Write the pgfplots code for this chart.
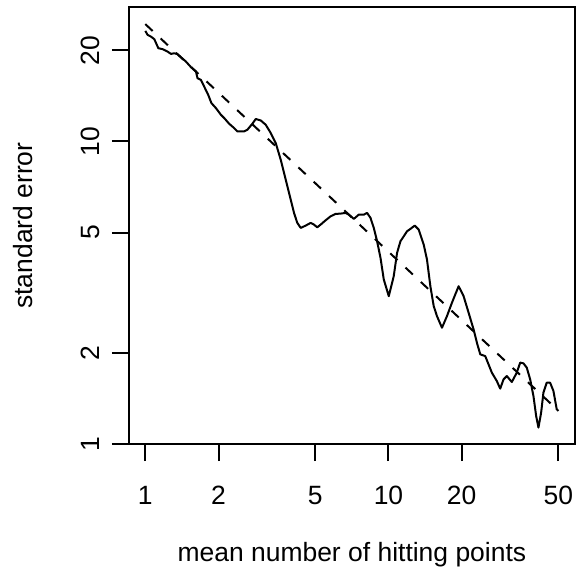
\documentclass[border=0pt]{standalone}
\usepackage{fontspec}
\setmainfont{Liberation Sans}
\usepackage{pgfplots}
\pgfplotsset{compat=1.18}

% standard error vs mean number of hitting points (log-log)
\pgfplotstableread{
x y
1.000 23.17
1.022 22.48
1.055 22.19
1.089 21.76
1.131 20.32
1.178 20.17
1.234 19.81
1.275 19.46
1.315 19.56
1.357 19.42
1.401 18.98
1.469 18.36
1.540 17.60
1.615 17.02
1.639 16.18
1.692 15.97
1.746 15.18
1.813 14.26
1.871 13.38
1.951 12.89
2.045 12.25
2.110 11.95
2.212 11.44
2.319 11.07
2.392 10.79
2.548 10.79
2.629 10.93
2.756 11.44
2.846 11.86
2.984 11.73
3.128 11.35
3.280 10.66
3.439 9.879
3.605 8.701
3.780 7.476
3.963 6.424
4.088 5.807
4.218 5.383
4.356 5.182
4.566 5.273
4.786 5.383
4.938 5.313
5.094 5.205
5.261 5.313
5.515 5.490
5.781 5.659
6.061 5.763
6.354 5.776
6.661 5.807
6.872 5.732
7.204 5.549
7.552 5.732
7.917 5.732
8.168 5.807
8.435 5.591
8.702 5.182
8.979 4.681
9.272 4.127
9.566 3.500
10.03 3.083
10.51 3.589
10.85 4.287
11.20 4.681
11.56 4.862
11.92 5.050
12.31 5.143
12.82 5.273
13.31 5.116
13.96 4.565
14.40 4.074
14.87 3.326
15.35 2.858
15.83 2.649
16.60 2.425
17.40 2.649
18.24 2.932
19.43 3.326
20.37 3.083
21.36 2.718
22.39 2.394
23.10 2.165
23.85 1.981
25.00 1.955
25.79 1.836
26.61 1.724
27.90 1.617
28.81 1.526
29.73 1.638
30.67 1.680
32.16 1.605
33.71 1.724
34.81 1.860
35.91 1.850
37.05 1.790
38.26 1.638
39.47 1.443
40.49 1.240
41.38 1.135
42.45 1.272
43.38 1.481
44.76 1.597
46.22 1.597
47.69 1.499
49.20 1.304
50.00 1.288
}\seerr

\begin{document}
\fontsize{13.25bp}{16bp}\selectfont
\begin{tikzpicture}
\begin{loglogaxis}[
  scale only axis, width=223.5bp, height=219bp,
  xmin=0.855, xmax=58.5, ymin=1, ymax=27.8,
  xtick={1,2,5,10,20,50}, xticklabels={1,2,5,10,20,50},
  ytick={1,2,5,10,20}, yticklabels={1,2,5,10,20},
  minor xtick={}, minor ytick={},
  tick pos=left, tick align=outside, major tick length=8.5bp,
  axis line style={line width=1bp},
  every tick/.style={black, line width=1bp},
  tick label style={font=\fontsize{13.25bp}{16bp}\selectfont},
  xticklabel style={anchor=base, yshift=-21.5bp},
  yticklabel style={xshift=-6bp, rotate=90, anchor=base},
  xlabel={mean number of hitting points},
  ylabel={standard error},
  label style={font=\fontsize{13.25bp}{16bp}\selectfont},
  xlabel style={at={(axis description cs:0.5,-0.2671)}, anchor=base},
  ylabel style={at={(axis description cs:-0.2148,0.5)}, anchor=base},
]
\addplot[black, line width=1bp, line join=round] table {\seerr};
\addplot[black, line width=1bp, dash pattern=on 5bp off 5.5bp] coordinates {(1,24.4) (50,1.29)};
\coordinate (bl) at (rel axis cs:0,0);
\coordinate (tr) at (rel axis cs:1,1);
\end{loglogaxis}
\pgfresetboundingbox
\path ([shift={(-64.5bp,-64.5bp)}]bl) rectangle ([shift={(0.5bp,3.5bp)}]tr);
\end{tikzpicture}
\end{document}
